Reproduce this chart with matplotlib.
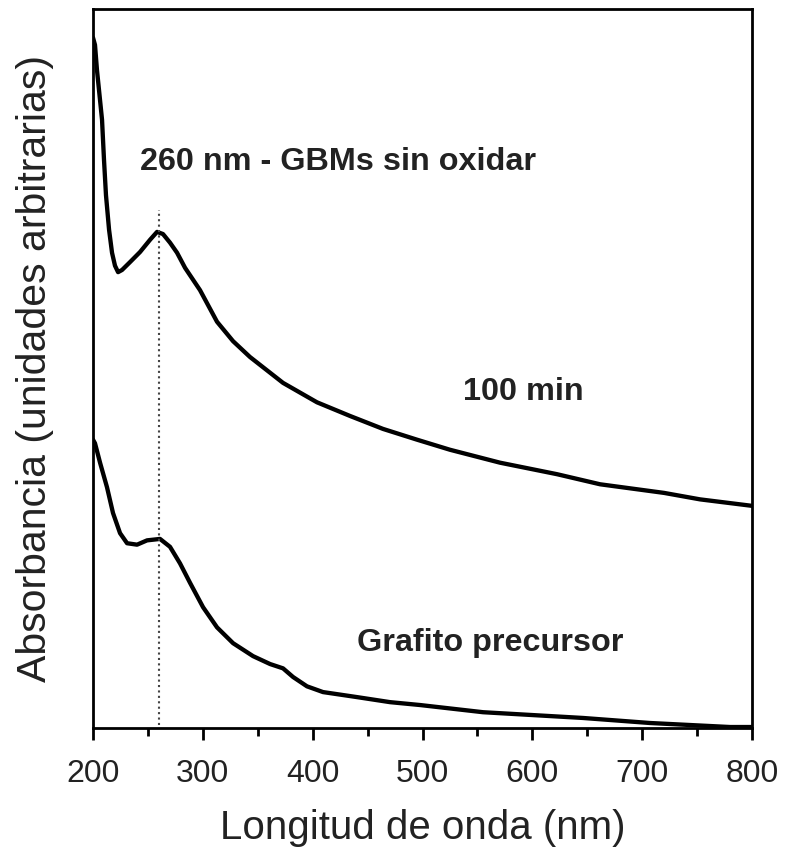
import matplotlib
matplotlib.use("Agg")
import matplotlib.pyplot as plt
from matplotlib.ticker import MultipleLocator

plt.rcParams['font.family'] = ['Liberation Sans', 'DejaVu Sans']

# 100 min curve (arbitrary units)
wl_100 = [200.0, 201.8, 203.6, 206.4, 208.2, 210.0, 211.8, 214.6, 217.3, 220.0, 222.8,
          226.4, 233.7, 242.8, 251.9, 258.3, 263.7, 270.1, 276.5, 283.8, 297.4, 312.9,
          327.5, 342.9, 373.0, 403.9, 434.0, 464.0, 495.0, 525.0, 570.6, 622.5, 661.6,
          719.9, 752.7, 800.0]
abs_100 = [96.0, 95.0, 91.5, 87.3, 84.6, 79.0, 74.1, 69.3, 66.1, 64.3, 63.4,
           63.7, 64.8, 66.2, 67.9, 69.0, 68.7, 67.5, 66.1, 64.0, 60.9, 56.5,
           53.8, 51.6, 48.0, 45.3, 43.4, 41.6, 40.1, 38.7, 36.9, 35.3, 33.9,
           32.7, 31.8, 30.9]

# Grafito precursor curve
wl_gr = [200.0, 201.8, 206.4, 212.7, 218.2, 224.6, 231.0, 240.1, 249.2, 261.0, 270.1,
         279.2, 288.3, 300.2, 312.9, 327.5, 345.7, 361.2, 373.0, 382.1, 394.8, 409.4,
         440.4, 470.4, 497.7, 555.1, 646.1, 707.1, 780.0, 800.0]
abs_gr = [40.1, 39.6, 36.9, 33.5, 29.9, 27.1, 25.7, 25.5, 26.1, 26.3, 25.2,
          22.9, 20.2, 16.8, 14.0, 11.8, 10.0, 8.9, 8.3, 7.1, 5.8, 5.0,
          4.3, 3.6, 3.2, 2.2, 1.4, 0.7, 0.14, 0.14]

peak_wl = 260
xticks = [200, 300, 400, 500, 600, 700, 800]

fig = plt.figure(figsize=(7.85, 8.55), dpi=100)
ax = fig.add_axes([0.1185, 0.1485, 0.8395, 0.841])

txt = '#222222'
ax.plot(wl_100, abs_100, color='black', lw=3.1, solid_joinstyle='round', solid_capstyle='round')
ax.plot(wl_gr, abs_gr, color='black', lw=3.1, solid_joinstyle='round', solid_capstyle='round')
ax.plot([peak_wl, peak_wl], [0.4, 72.0], color='#444444', lw=1.5, linestyle=(0, (1, 1.6)))

ax.set_xlim(200, 800)
ax.set_ylim(0, 100)
ax.set_xticks(xticks)
ax.xaxis.set_minor_locator(MultipleLocator(50))
ax.set_yticks([])
ax.tick_params(axis='x', which='major', direction='out', length=8.6, width=2.0,
               labelsize=23, pad=14, colors='black', labelcolor=txt)
ax.tick_params(axis='x', which='minor', direction='out', length=5.5, width=2.0)
for s in ax.spines.values():
    s.set_linewidth(2.0)

ax.set_xlabel('Longitud de onda (nm)', fontsize=29, color=txt, labelpad=14)
ax.set_ylabel('Absorbancia (unidades arbitrarias)', fontsize=29.5, color=txt, labelpad=28)

ax.text(242.8, (728 - 162) / 7.19, '260 nm - GBMs sin oxidar', fontsize=23.3,
        fontweight='bold', color=txt, va='center', ha='left')
ax.text(537, (728 - 392) / 7.19, '100 min', fontsize=23.3,
        fontweight='bold', color=txt, va='center', ha='left')
ax.text(440.4, (728 - 643) / 7.19, 'Grafito precursor', fontsize=23.3,
        fontweight='bold', color=txt, va='center', ha='left')

fig.savefig('out.png', dpi=100)
